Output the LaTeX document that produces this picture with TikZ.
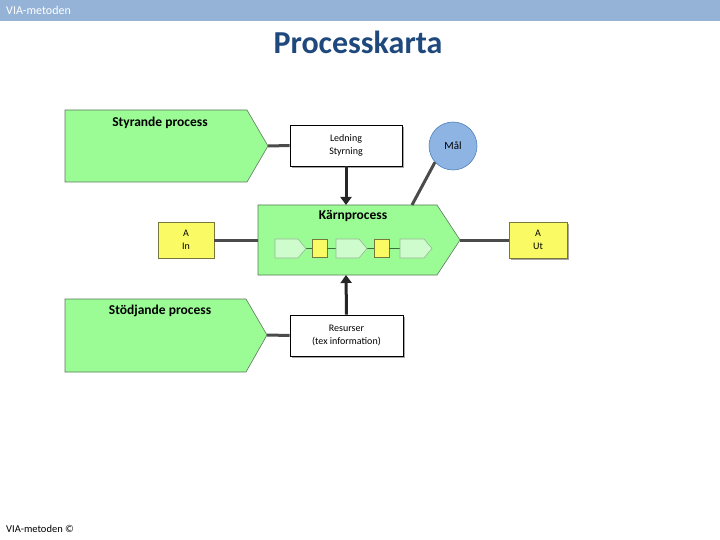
\documentclass[tikz,border=0pt]{standalone}
\usepackage{fontspec}
\setmainfont{Carlito}
\usetikzlibrary{arrows.meta,shadows}
\definecolor{hdrblue}{RGB}{149,179,215}
\definecolor{ttlblue}{RGB}{31,73,125}
\definecolor{procgreen}{RGB}{155,252,150}
\definecolor{procborder}{RGB}{90,120,90}
\definecolor{palegreen}{RGB}{206,252,204}
\definecolor{paleborder}{RGB}{150,185,150}
\definecolor{chainline}{RGB}{60,110,60}
\definecolor{yel}{RGB}{250,250,100}
\definecolor{yelborder}{RGB}{120,120,60}
\definecolor{circfill}{RGB}{142,180,227}
\definecolor{circborder}{RGB}{79,129,189}
\definecolor{connc}{RGB}{75,75,75}
\tikzset{
  proc/.style={fill=procgreen, draw=procborder, line width=0.6pt},
  subproc/.style={fill=palegreen, draw=paleborder, line width=0.6pt},
  lbl/.style={font=\fontsize{13.5}{16}\selectfont\bfseries, text=black},
  boxtxt/.style={font=\fontsize{10}{12.5}\selectfont, align=center},
  whitebox/.style={boxtxt, draw=black, fill=white, line width=0.6pt, inner sep=0pt,
    drop shadow={shadow xshift=1.5pt, shadow yshift=-2pt, fill=black!35, opacity=1}},
  yelbox/.style={boxtxt, draw=yelborder, fill=yel, line width=0.6pt, inner sep=0pt},
  yelsq/.style={draw=yelborder, fill=yel, line width=0.6pt, inner sep=0pt, minimum width=15pt, minimum height=18pt},
  conn/.style={draw=connc, line width=3pt},
  chain/.style={draw=chainline, line width=1.5pt},
  arrowc/.style={draw=black!85, line width=3pt, -{Triangle[length=8pt,width=11pt]}}
}
\begin{document}
\begin{tikzpicture}[x=1pt,y=-1pt]
\useasboundingbox (0,0) rectangle (720,540);
% header
\fill[hdrblue] (0,0) rectangle (720,21);
\node[anchor=west, text=white, font=\fontsize{12}{14}\selectfont, inner sep=0pt] (hdr) at (6,10.5) {VIA-metoden};
\node[font=\fontsize{32}{36}\selectfont\bfseries, text=ttlblue] (title) at (358,42) {Processkarta};

% Styrande process
\draw[proc] (65,110) -- (247,110) -- (268,146) -- (247,182) -- (65,182) -- cycle;
\coordinate (styTip) at (268,146);
\node[lbl] (styLbl) at (160,123) {Styrande process};

% Ledning
\node[whitebox, minimum width=112pt, minimum height=41pt] (led) at (346,145.5) {Ledning\\Styrning};

% Mal
\node[circle, minimum size=48pt, fill=circfill, draw=circborder, line width=0.6pt, align=center, font=\fontsize{11}{13}\selectfont] (mal) at (453,146) {Mål};

% Karnprocess
\draw[proc] (258,205) -- (437,205) -- (460,240) -- (437,275) -- (258,275) -- cycle;
\coordinate (kTip) at (460,240);
\coordinate (kLeft) at (258,240);
\coordinate (kTopMid) at (346,205);
\coordinate (kBotMid) at (346,275);
\coordinate (kTopR) at (412,205);
\node[lbl] (kLbl) at (353,216) {Kärnprocess};

% inner chain
\coordinate (p1) at (306,248.5);
\coordinate (p2L) at (336,248.5);
\coordinate (p2) at (367,248.5);
\coordinate (p3L) at (400,248.5);
\node[yelsq] (s1) at (319.5,248.5) {};
\node[yelsq] (s2) at (381.5,248.5) {};
\draw[chain] (p1) -- (s1.west);
\draw[chain] (s1.east) -- (p2L);
\draw[chain] (p2) -- (s2.west);
\draw[chain] (s2.east) -- (p3L);
\draw[subproc] (275,239) -- (298,239) -- (306,248.5) -- (298,258) -- (275,258) -- cycle;
\draw[subproc] (336,239) -- (359,239) -- (367,248.5) -- (359,258) -- (336,258) -- cycle;
\draw[subproc] (400,239) -- (424,239) -- (432,248.5) -- (424,258) -- (400,258) -- cycle;

% A In / A Ut
\node[yelbox, minimum width=56pt, minimum height=36pt] (ain) at (186,240) {A\\In};
\node[yelbox, minimum width=58pt, minimum height=36pt,
  drop shadow={shadow xshift=1.5pt, shadow yshift=-2pt, fill=black!35, opacity=1}] (aut) at (538,240) {A\\Ut};

% Stodjande process
\draw[proc] (65,299) -- (246,299) -- (267,335) -- (246,372) -- (65,372) -- cycle;
\coordinate (stoTip) at (267,335);
\node[lbl] (stoLbl) at (160,311) {Stödjande process};

% Resurser
\node[whitebox, minimum width=113pt, minimum height=41pt] (res) at (346.5,335.5) {Resurser\\(tex information)};

% connectors
\draw[conn] (styTip) -- (led.west);
\draw[conn] (mal.222) -- (kTopR);
\draw[conn] (ain.east) -- (kLeft);
\draw[conn] (kTip) -- (aut.west);
\draw[conn] (stoTip) -- (res.west);
\draw[arrowc] (led.south) -- (kTopMid);
\draw[arrowc] (res.north) -- (kBotMid);

% footer
\node[anchor=west, font=\fontsize{10.5}{12}\selectfont, inner sep=0pt] (ftr) at (6,529) {VIA-metoden ©};
\end{tikzpicture}
\end{document}
